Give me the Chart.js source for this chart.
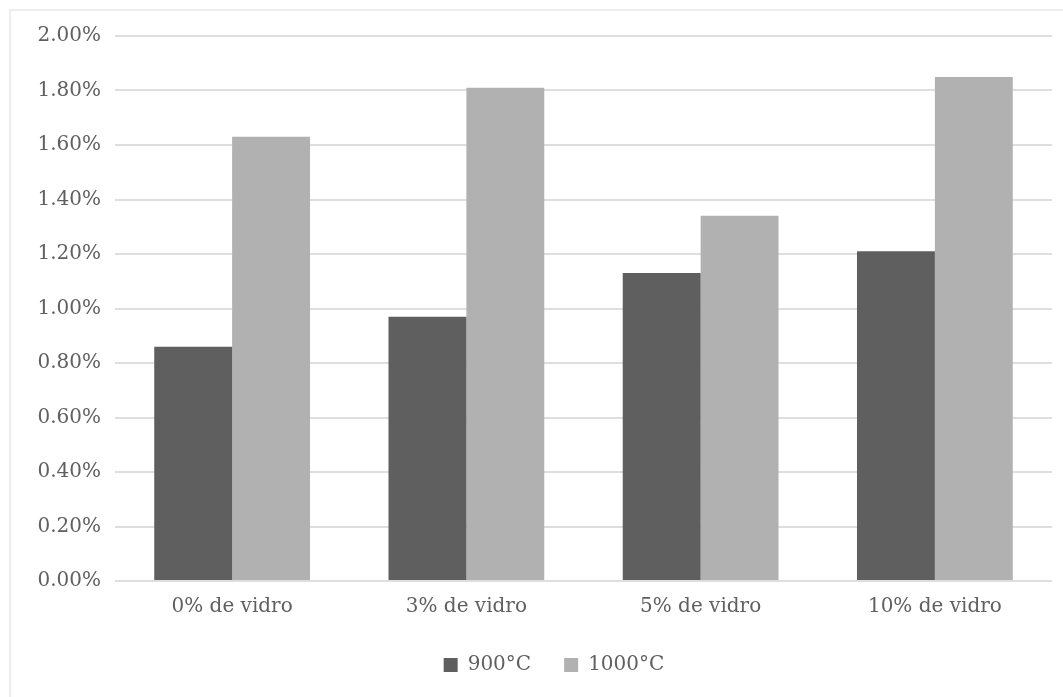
<!DOCTYPE html>
<html lang="pt">
<head>
    <meta charset="UTF-8">
    <title>900°C e 1000°C</title>
    <script src="https://cdn.jsdelivr.net/npm/chart.js"></script>
    <style>
        html, body { margin: 0; padding: 0; background: #fff; }
        #frame {
            position: absolute; left: 9px; top: 9px; right: 0; bottom: 0;
            border-top: 2px solid #ededed; border-left: 2px solid #ededed;
        }
        #wrap { position: absolute; left: 0; top: 0; width: 1063px; height: 697px; }
    </style>
</head>
<body>
    <div id="frame"></div>
    <div id="wrap"><canvas id="chart"></canvas></div>
    <script>
        const categories = ['0% de vidro', '3% de vidro', '5% de vidro', '10% de vidro'];
        const seriesLabels = ['900°C', '1000°C'];
        const values900 = [0.86, 0.97, 1.13, 1.21];
        const values1000 = [1.63, 1.81, 1.34, 1.85];

        const textColor = '#606060';
        const font = { family: 'DejaVu Serif', size: 20 };

        // legend sits a bit right of centre in the original (centred on plot area)
        const legendShift = {
            id: 'legendShift',
            afterLayout(chart) {
                const lg = chart.legend;
                if (lg) { lg.left += 28; lg.right += 28; }
            }
        };

        new Chart(document.getElementById('chart'), {
            type: 'bar',
            data: {
                labels: categories,
                datasets: [
                    { label: seriesLabels[0], data: values900, backgroundColor: '#5f5f5f' },
                    { label: seriesLabels[1], data: values1000, backgroundColor: '#b1b1b1' }
                ]
            },
            options: {
                responsive: true,
                maintainAspectRatio: false,
                animation: false,
                categoryPercentage: 0.665,
                barPercentage: 1.0,
                layout: { padding: { top: 36, right: 11, bottom: 12, left: 0 } },
                plugins: {
                    tooltip: { enabled: false },
                    legend: {
                        position: 'bottom',
                        labels: {
                            color: textColor, font: font,
                            boxWidth: 14, boxHeight: 14, padding: 33
                        }
                    }
                },
                scales: {
                    x: {
                        grid: { display: false },
                        border: { display: false },
                        ticks: { color: textColor, font: font, padding: 6 },
                        afterFit: s => { s.height = 41; }
                    },
                    y: {
                        min: 0, max: 2.0,
                        grid: { color: '#dedede', lineWidth: 2, drawTicks: false },
                        border: { display: false },
                        ticks: {
                            stepSize: 0.2, color: textColor, font: font, padding: 14,
                            callback: v => v.toFixed(2) + '%'
                        },
                        afterFit: s => { s.width = 115; }
                    }
                }
            },
            plugins: [legendShift]
        });
    </script>
</body>
</html>
